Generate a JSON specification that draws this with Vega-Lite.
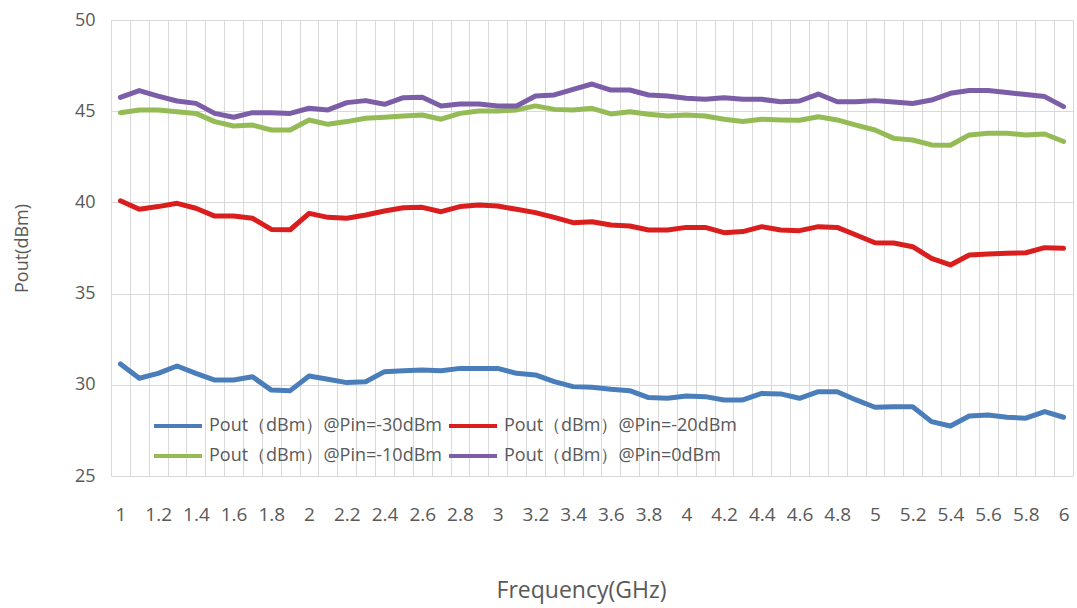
{
  "$schema": "https://vega.github.io/schema/vega-lite/v6.json",
  "width": 962,
  "height": 456,
  "autosize": "none",
  "padding": {"left": 111, "top": 20, "right": 4, "bottom": 132},
  "background": "white",
  "config": {"view": {"stroke": null}, "font": "Open Sans"},
  "data": {"values": [
    {"f": 1.0, "Pout（dBm）@Pin=-30dBm": 31.14, "Pout（dBm）@Pin=-20dBm": 40.09, "Pout（dBm）@Pin=-10dBm": 44.92, "Pout（dBm）@Pin=0dBm": 45.76},
    {"f": 1.1, "Pout（dBm）@Pin=-30dBm": 30.36, "Pout（dBm）@Pin=-20dBm": 39.62, "Pout（dBm）@Pin=-10dBm": 45.07, "Pout（dBm）@Pin=0dBm": 46.13},
    {"f": 1.2, "Pout（dBm）@Pin=-30dBm": 30.63, "Pout（dBm）@Pin=-20dBm": 39.77, "Pout（dBm）@Pin=-10dBm": 45.07, "Pout（dBm）@Pin=0dBm": 45.83},
    {"f": 1.3, "Pout（dBm）@Pin=-30dBm": 31.03, "Pout（dBm）@Pin=-20dBm": 39.95, "Pout（dBm）@Pin=-10dBm": 44.97, "Pout（dBm）@Pin=0dBm": 45.56},
    {"f": 1.4, "Pout（dBm）@Pin=-30dBm": 30.63, "Pout（dBm）@Pin=-20dBm": 39.68, "Pout（dBm）@Pin=-10dBm": 44.88, "Pout（dBm）@Pin=0dBm": 45.43},
    {"f": 1.5, "Pout（dBm）@Pin=-30dBm": 30.26, "Pout（dBm）@Pin=-20dBm": 39.25, "Pout（dBm）@Pin=-10dBm": 44.43, "Pout（dBm）@Pin=0dBm": 44.88},
    {"f": 1.6, "Pout（dBm）@Pin=-30dBm": 30.26, "Pout（dBm）@Pin=-20dBm": 39.25, "Pout（dBm）@Pin=-10dBm": 44.19, "Pout（dBm）@Pin=0dBm": 44.67},
    {"f": 1.7, "Pout（dBm）@Pin=-30dBm": 30.44, "Pout（dBm）@Pin=-20dBm": 39.13, "Pout（dBm）@Pin=-10dBm": 44.24, "Pout（dBm）@Pin=0dBm": 44.92},
    {"f": 1.8, "Pout（dBm）@Pin=-30dBm": 29.71, "Pout（dBm）@Pin=-20dBm": 38.52, "Pout（dBm）@Pin=-10dBm": 43.97, "Pout（dBm）@Pin=0dBm": 44.92},
    {"f": 1.9, "Pout（dBm）@Pin=-30dBm": 29.68, "Pout（dBm）@Pin=-20dBm": 38.5, "Pout（dBm）@Pin=-10dBm": 43.97, "Pout（dBm）@Pin=0dBm": 44.88},
    {"f": 2.0, "Pout（dBm）@Pin=-30dBm": 30.48, "Pout（dBm）@Pin=-20dBm": 39.4, "Pout（dBm）@Pin=-10dBm": 44.52, "Pout（dBm）@Pin=0dBm": 45.16},
    {"f": 2.1, "Pout（dBm）@Pin=-30dBm": 30.3, "Pout（dBm）@Pin=-20dBm": 39.18, "Pout（dBm）@Pin=-10dBm": 44.28, "Pout（dBm）@Pin=0dBm": 45.07},
    {"f": 2.2, "Pout（dBm）@Pin=-30dBm": 30.12, "Pout（dBm）@Pin=-20dBm": 39.13, "Pout（dBm）@Pin=-10dBm": 44.43, "Pout（dBm）@Pin=0dBm": 45.47},
    {"f": 2.3, "Pout（dBm）@Pin=-30dBm": 30.17, "Pout（dBm）@Pin=-20dBm": 39.31, "Pout（dBm）@Pin=-10dBm": 44.61, "Pout（dBm）@Pin=0dBm": 45.58},
    {"f": 2.4, "Pout（dBm）@Pin=-30dBm": 30.72, "Pout（dBm）@Pin=-20dBm": 39.53, "Pout（dBm）@Pin=-10dBm": 44.67, "Pout（dBm）@Pin=0dBm": 45.38},
    {"f": 2.5, "Pout（dBm）@Pin=-30dBm": 30.77, "Pout（dBm）@Pin=-20dBm": 39.71, "Pout（dBm）@Pin=-10dBm": 44.74, "Pout（dBm）@Pin=0dBm": 45.74},
    {"f": 2.6, "Pout（dBm）@Pin=-30dBm": 30.81, "Pout（dBm）@Pin=-20dBm": 39.73, "Pout（dBm）@Pin=-10dBm": 44.79, "Pout（dBm）@Pin=0dBm": 45.76},
    {"f": 2.7, "Pout（dBm）@Pin=-30dBm": 30.77, "Pout（dBm）@Pin=-20dBm": 39.49, "Pout（dBm）@Pin=-10dBm": 44.56, "Pout（dBm）@Pin=0dBm": 45.29},
    {"f": 2.8, "Pout（dBm）@Pin=-30dBm": 30.9, "Pout（dBm）@Pin=-20dBm": 39.77, "Pout（dBm）@Pin=-10dBm": 44.88, "Pout（dBm）@Pin=0dBm": 45.4},
    {"f": 2.9, "Pout（dBm）@Pin=-30dBm": 30.9, "Pout（dBm）@Pin=-20dBm": 39.86, "Pout（dBm）@Pin=-10dBm": 45.01, "Pout（dBm）@Pin=0dBm": 45.4},
    {"f": 3.0, "Pout（dBm）@Pin=-30dBm": 30.9, "Pout（dBm）@Pin=-20dBm": 39.8, "Pout（dBm）@Pin=-10dBm": 45.01, "Pout（dBm）@Pin=0dBm": 45.29},
    {"f": 3.1, "Pout（dBm）@Pin=-30dBm": 30.63, "Pout（dBm）@Pin=-20dBm": 39.62, "Pout（dBm）@Pin=-10dBm": 45.07, "Pout（dBm）@Pin=0dBm": 45.29},
    {"f": 3.2, "Pout（dBm）@Pin=-30dBm": 30.54, "Pout（dBm）@Pin=-20dBm": 39.44, "Pout（dBm）@Pin=-10dBm": 45.29, "Pout（dBm）@Pin=0dBm": 45.83},
    {"f": 3.3, "Pout（dBm）@Pin=-30dBm": 30.17, "Pout（dBm）@Pin=-20dBm": 39.18, "Pout（dBm）@Pin=-10dBm": 45.1, "Pout（dBm）@Pin=0dBm": 45.89},
    {"f": 3.4, "Pout（dBm）@Pin=-30dBm": 29.9, "Pout（dBm）@Pin=-20dBm": 38.89, "Pout（dBm）@Pin=-10dBm": 45.07, "Pout（dBm）@Pin=0dBm": 46.2},
    {"f": 3.5, "Pout（dBm）@Pin=-30dBm": 29.86, "Pout（dBm）@Pin=-20dBm": 38.94, "Pout（dBm）@Pin=-10dBm": 45.16, "Pout（dBm）@Pin=0dBm": 46.49},
    {"f": 3.6, "Pout（dBm）@Pin=-30dBm": 29.75, "Pout（dBm）@Pin=-20dBm": 38.76, "Pout（dBm）@Pin=-10dBm": 44.85, "Pout（dBm）@Pin=0dBm": 46.16},
    {"f": 3.7, "Pout（dBm）@Pin=-30dBm": 29.68, "Pout（dBm）@Pin=-20dBm": 38.71, "Pout（dBm）@Pin=-10dBm": 44.97, "Pout（dBm）@Pin=0dBm": 46.16},
    {"f": 3.8, "Pout（dBm）@Pin=-30dBm": 29.3, "Pout（dBm）@Pin=-20dBm": 38.49, "Pout（dBm）@Pin=-10dBm": 44.83, "Pout（dBm）@Pin=0dBm": 45.89},
    {"f": 3.9, "Pout（dBm）@Pin=-30dBm": 29.26, "Pout（dBm）@Pin=-20dBm": 38.49, "Pout（dBm）@Pin=-10dBm": 44.74, "Pout（dBm）@Pin=0dBm": 45.83},
    {"f": 4.0, "Pout（dBm）@Pin=-30dBm": 29.39, "Pout（dBm）@Pin=-20dBm": 38.63, "Pout（dBm）@Pin=-10dBm": 44.79, "Pout（dBm）@Pin=0dBm": 45.71},
    {"f": 4.1, "Pout（dBm）@Pin=-30dBm": 29.35, "Pout（dBm）@Pin=-20dBm": 38.63, "Pout（dBm）@Pin=-10dBm": 44.74, "Pout（dBm）@Pin=0dBm": 45.65},
    {"f": 4.2, "Pout（dBm）@Pin=-30dBm": 29.17, "Pout（dBm）@Pin=-20dBm": 38.34, "Pout（dBm）@Pin=-10dBm": 44.56, "Pout（dBm）@Pin=0dBm": 45.74},
    {"f": 4.3, "Pout（dBm）@Pin=-30dBm": 29.17, "Pout（dBm）@Pin=-20dBm": 38.4, "Pout（dBm）@Pin=-10dBm": 44.43, "Pout（dBm）@Pin=0dBm": 45.65},
    {"f": 4.4, "Pout（dBm）@Pin=-30dBm": 29.53, "Pout（dBm）@Pin=-20dBm": 38.67, "Pout（dBm）@Pin=-10dBm": 44.56, "Pout（dBm）@Pin=0dBm": 45.65},
    {"f": 4.5, "Pout（dBm）@Pin=-30dBm": 29.5, "Pout（dBm）@Pin=-20dBm": 38.49, "Pout（dBm）@Pin=-10dBm": 44.52, "Pout（dBm）@Pin=0dBm": 45.52},
    {"f": 4.6, "Pout（dBm）@Pin=-30dBm": 29.26, "Pout（dBm）@Pin=-20dBm": 38.45, "Pout（dBm）@Pin=-10dBm": 44.5, "Pout（dBm）@Pin=0dBm": 45.56},
    {"f": 4.7, "Pout（dBm）@Pin=-30dBm": 29.62, "Pout（dBm）@Pin=-20dBm": 38.67, "Pout（dBm）@Pin=-10dBm": 44.7, "Pout（dBm）@Pin=0dBm": 45.94},
    {"f": 4.8, "Pout（dBm）@Pin=-30dBm": 29.62, "Pout（dBm）@Pin=-20dBm": 38.63, "Pout（dBm）@Pin=-10dBm": 44.52, "Pout（dBm）@Pin=0dBm": 45.52},
    {"f": 4.9, "Pout（dBm）@Pin=-30dBm": 29.17, "Pout（dBm）@Pin=-20dBm": 38.21, "Pout（dBm）@Pin=-10dBm": 44.24, "Pout（dBm）@Pin=0dBm": 45.52},
    {"f": 5.0, "Pout（dBm）@Pin=-30dBm": 28.77, "Pout（dBm）@Pin=-20dBm": 37.79, "Pout（dBm）@Pin=-10dBm": 43.97, "Pout（dBm）@Pin=0dBm": 45.58},
    {"f": 5.1, "Pout（dBm）@Pin=-30dBm": 28.8, "Pout（dBm）@Pin=-20dBm": 37.77, "Pout（dBm）@Pin=-10dBm": 43.51, "Pout（dBm）@Pin=0dBm": 45.5},
    {"f": 5.2, "Pout（dBm）@Pin=-30dBm": 28.8, "Pout（dBm）@Pin=-20dBm": 37.57, "Pout（dBm）@Pin=-10dBm": 43.42, "Pout（dBm）@Pin=0dBm": 45.42},
    {"f": 5.3, "Pout（dBm）@Pin=-30dBm": 27.98, "Pout（dBm）@Pin=-20dBm": 36.93, "Pout（dBm）@Pin=-10dBm": 43.15, "Pout（dBm）@Pin=0dBm": 45.61},
    {"f": 5.4, "Pout（dBm）@Pin=-30dBm": 27.74, "Pout（dBm）@Pin=-20dBm": 36.57, "Pout（dBm）@Pin=-10dBm": 43.13, "Pout（dBm）@Pin=0dBm": 45.98},
    {"f": 5.5, "Pout（dBm）@Pin=-30dBm": 28.29, "Pout（dBm）@Pin=-20dBm": 37.12, "Pout（dBm）@Pin=-10dBm": 43.7, "Pout（dBm）@Pin=0dBm": 46.13},
    {"f": 5.6, "Pout（dBm）@Pin=-30dBm": 28.34, "Pout（dBm）@Pin=-20dBm": 37.17, "Pout（dBm）@Pin=-10dBm": 43.79, "Pout（dBm）@Pin=0dBm": 46.13},
    {"f": 5.7, "Pout（dBm）@Pin=-30dBm": 28.22, "Pout（dBm）@Pin=-20dBm": 37.21, "Pout（dBm）@Pin=-10dBm": 43.79, "Pout（dBm）@Pin=0dBm": 46.02},
    {"f": 5.8, "Pout（dBm）@Pin=-30dBm": 28.17, "Pout（dBm）@Pin=-20dBm": 37.24, "Pout（dBm）@Pin=-10dBm": 43.7, "Pout（dBm）@Pin=0dBm": 45.92},
    {"f": 5.9, "Pout（dBm）@Pin=-30dBm": 28.53, "Pout（dBm）@Pin=-20dBm": 37.52, "Pout（dBm）@Pin=-10dBm": 43.75, "Pout（dBm）@Pin=0dBm": 45.8},
    {"f": 6.0, "Pout（dBm）@Pin=-30dBm": 28.22, "Pout（dBm）@Pin=-20dBm": 37.48, "Pout（dBm）@Pin=-10dBm": 43.34, "Pout（dBm）@Pin=0dBm": 45.25}
  ]},
  "transform": [
    {"fold": ["Pout（dBm）@Pin=-30dBm", "Pout（dBm）@Pin=-20dBm", "Pout（dBm）@Pin=-10dBm", "Pout（dBm）@Pin=0dBm"], "as": ["series", "value"]}
  ],
  "mark": {"type": "line", "strokeWidth": 5, "strokeJoin": "round", "strokeCap": "round"},
  "encoding": {
    "x": {
      "field": "f", "type": "ordinal", "bandPosition": 0.5,
      "scale": {"type": "band", "paddingInner": 0, "paddingOuter": 0},
      "axis": {
        "title": "Frequency(GHz)", "tickBand": "extent", "grid": true, "gridColor": "#D9D9D9", "gridWidth": 1,
        "ticks": false, "domain": false, "labelAngle": 0, "labelOverlap": false, "labelBound": false,
        "labelExpr": "round(datum.value*10) % 2 == 0 ? datum.label : ''",
        "labelFontSize": 19, "labelColor": "#595959", "labelPadding": 29,
        "titleFontSize": 23, "titleFontWeight": "normal", "titleColor": "#595959", "titlePadding": 55,
        "titleX": 470, "titleAnchor": "middle"
      }
    },
    "y": {
      "field": "value", "type": "quantitative",
      "scale": {"domain": [25, 50], "nice": false, "zero": false},
      "axis": {
        "title": "Pout(dBm)", "values": [25, 30, 35, 40, 45, 50], "grid": true, "gridColor": "#D9D9D9", "gridWidth": 1,
        "ticks": false, "domain": false,
        "labelFontSize": 18, "labelColor": "#595959", "labelPadding": 16,
        "titleFontSize": 18, "titleFontWeight": "normal", "titleColor": "#595959", "titlePadding": 43
      }
    },
    "color": {
      "field": "series", "type": "nominal",
      "scale": {
        "domain": ["Pout（dBm）@Pin=-30dBm", "Pout（dBm）@Pin=-20dBm", "Pout（dBm）@Pin=-10dBm", "Pout（dBm）@Pin=0dBm"],
        "range": ["#4A7EBB", "#DA1E1E", "#94BB55", "#7B5EA7"]
      },
      "legend": {
        "title": null, "orient": "none", "legendX": 41, "legendY": 391, "columns": 2, "direction": "horizontal",
        "symbolType": "stroke", "symbolSize": 2304, "symbolStrokeWidth": 4, "clipHeight": 30,
        "labelFontSize": 18, "labelColor": "#595959", "labelOffset": 5, "labelLimit": 400,
        "columnPadding": 5, "rowPadding": 0, "padding": 0
      }
    }
  }
}
